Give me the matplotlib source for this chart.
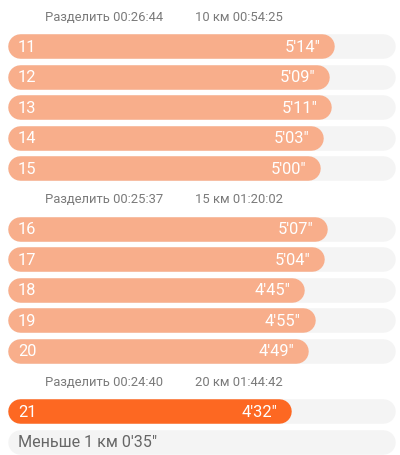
import matplotlib.pyplot as plt

# pace per km, in seconds
km_labels = ["11", "12", "13", "14", "15", "16", "17", "18", "19", "20", "21"]
pace_sec = [314, 309, 311, 303, 300, 307, 304, 285, 295, 289, 272]
pace_text = ["5'14\"", "5'09\"", "5'11\"", "5'03\"", "5'00\"",
             "5'07\"", "5'04\"", "4'45\"", "4'55\"", "4'49\"", "4'32\""]

# section headers: split time and cumulative distance/time
split_times = ["00:26:44", "00:25:37", "00:24:40"]
cumul_labels = ["10 км 00:54:25", "15 км 01:20:02", "20 км 01:44:42"]
rest_label = "Меньше 1 км 0'35\""

track_max = 372  # full length of grey track, seconds

plt.rcParams['font.family'] = ['Roboto', 'DejaVu Sans']

fig = plt.figure(figsize=(4, 4.56), dpi=100)
ax = fig.add_axes([0, 0, 1, 1])
ax.set_xlim(-7.7, 376.9)
ax.set_ylim(14.43, -0.56)
ax.axis('off')

lw = 24.5 * 72 / 100          # bar thickness in points
r = 12.25 / 1.04              # cap radius in data units
light = '#F8AE8B'
dark = '#FD6822'
track = '#F4F4F4'


def draw_bar(row, value, color):
    ax.plot([r, max(value - r, r)], [row, row], color=color, lw=lw,
            solid_capstyle='round', zorder=2)


row = 0
i = 0
groups = [5, 5, 1]
for g, n in enumerate(groups):
    ax.text(0.1125, row, "Разделить " + split_times[g], transform=ax.get_yaxis_transform(),
            ha='left', va='center', fontsize=9.4, color='#7a7a7a')
    ax.text(0.4875, row, cumul_labels[g], transform=ax.get_yaxis_transform(),
            ha='left', va='center', fontsize=9.4, color='#7a7a7a')
    row += 1
    for _ in range(n):
        draw_bar(row, track_max, track)
        color = dark if i == len(km_labels) - 1 else light
        draw_bar(row, pace_sec[i], color)
        ax.text(0.045, row, km_labels[i], transform=ax.get_yaxis_transform(),
                ha='left', va='center', fontsize=11.8, color='white', zorder=3)
        ax.annotate(pace_text[i], xy=(pace_sec[i], row), xytext=(-10, 0),
                    textcoords='offset points', ha='right', va='center',
                    fontsize=11.8, color='white', zorder=3)
        row += 1
        i += 1

draw_bar(row, track_max, track)
ax.text(0.045, row, rest_label, transform=ax.get_yaxis_transform(),
        ha='left', va='center', fontsize=11.6, color='#666666', zorder=3)

fig.savefig('out.png', dpi=100)
